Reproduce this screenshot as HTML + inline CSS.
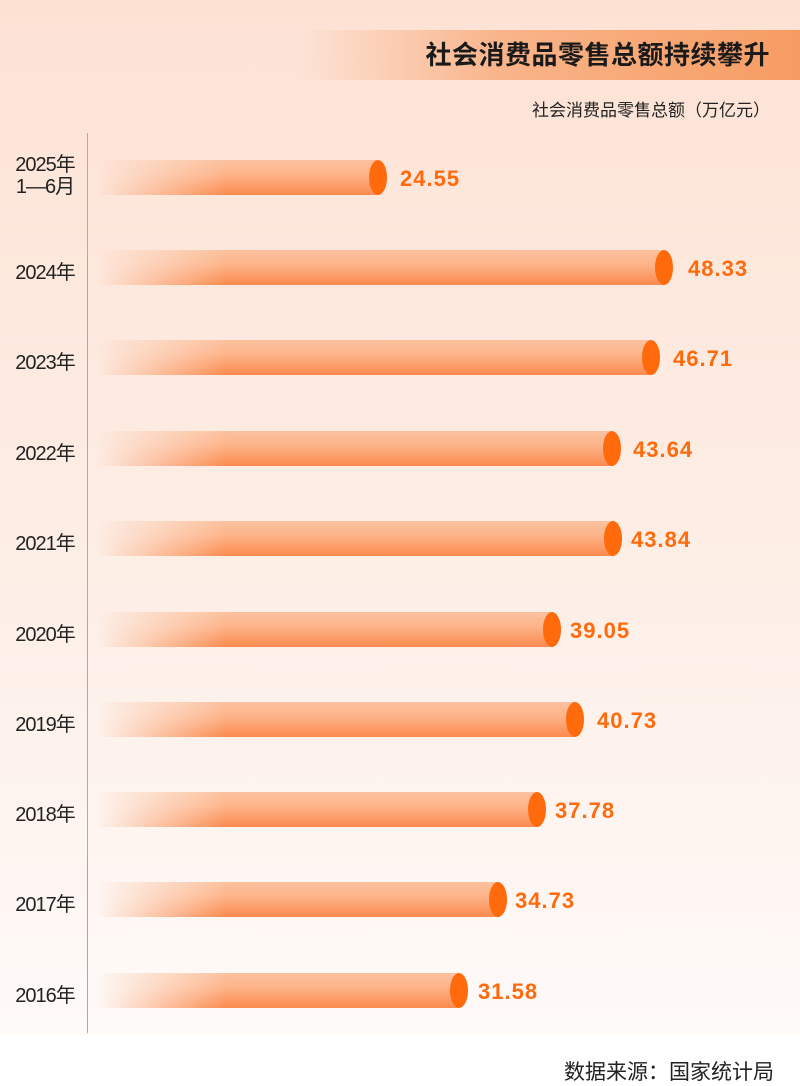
<!DOCTYPE html>
<html><head><meta charset="utf-8"><style>
*{margin:0;padding:0;box-sizing:border-box}
body{width:800px;height:1086px;position:relative;background:#fff;font-family:"Liberation Sans","Noto Sans CJK SC",sans-serif;overflow:hidden}
#bg{position:absolute;left:0;top:0;width:800px;height:1035px;background:linear-gradient(#fde2d4 0%,#fdeee6 55%,#fefaf8 100%)}
#title{position:absolute;left:300px;top:30px;width:500px;height:50px;background:linear-gradient(90deg,rgba(250,160,105,0) 0%,#f9b48a 40%,#f69c62 100%)}
#title span{position:absolute;right:30px;top:5px;font-size:26px;font-weight:bold;color:#1a1a1a;font-family:"Noto Sans CJK SC",sans-serif;letter-spacing:0.5px}
#unit{position:absolute;right:30px;top:96px;font-size:17px;color:#222;font-family:"Noto Sans CJK SC",sans-serif}
#axis{position:absolute;left:87px;top:133px;width:1px;height:900px;background:#aaa}
.bar{position:absolute;left:97px;height:35px;background:linear-gradient(#fbc29f 0%,#fdb48a 40%,#fb8a4e 100%);-webkit-mask-image:linear-gradient(90deg,transparent 0,#000 130px);mask-image:linear-gradient(90deg,transparent 0,#000 130px)}
.cap{position:absolute;width:18px;height:35px;border-radius:50%;background:#ff6a0c}
.val{position:absolute;font-size:22px;font-weight:bold;color:#ff6a0c;letter-spacing:1px}
.lab{position:absolute;left:0;width:90px;text-align:center;font-size:20px;color:#222;letter-spacing:-1px;font-family:"Liberation Sans","Noto Sans CJK SC",sans-serif}
#src{position:absolute;right:26px;top:1056px;font-size:21px;color:#222;font-family:"Noto Sans CJK SC",sans-serif}
</style></head><body>
<div id="bg"></div>
<div id="title"><span>社会消费品零售总额持续攀升</span></div>
<div id="unit">社会消费品零售总额（万亿元）</div>
<div id="axis"></div>

<div class="lab" style="top:154px;line-height:22px">2025年<br>1—6月</div>
<div class="bar" style="top:160px;width:282px"></div><div class="cap" style="left:369px;top:160px"></div><div class="val" style="left:400px;top:166px">24.55</div>

<div class="lab" style="top:256px">2024年</div>
<div class="bar" style="top:250px;width:568px"></div><div class="cap" style="left:655px;top:250px"></div><div class="val" style="left:688px;top:256px">48.33</div>

<div class="lab" style="top:346px">2023年</div>
<div class="bar" style="top:340px;width:555px"></div><div class="cap" style="left:642px;top:340px"></div><div class="val" style="left:673px;top:346px">46.71</div>

<div class="lab" style="top:437px">2022年</div>
<div class="bar" style="top:431px;width:516px"></div><div class="cap" style="left:603px;top:431px"></div><div class="val" style="left:633px;top:437px">43.64</div>

<div class="lab" style="top:527px">2021年</div>
<div class="bar" style="top:521px;width:517px"></div><div class="cap" style="left:604px;top:521px"></div><div class="val" style="left:631px;top:527px">43.84</div>

<div class="lab" style="top:618px">2020年</div>
<div class="bar" style="top:612px;width:456px"></div><div class="cap" style="left:543px;top:612px"></div><div class="val" style="left:570px;top:618px">39.05</div>

<div class="lab" style="top:708px">2019年</div>
<div class="bar" style="top:702px;width:479px"></div><div class="cap" style="left:566px;top:702px"></div><div class="val" style="left:597px;top:708px">40.73</div>

<div class="lab" style="top:798px">2018年</div>
<div class="bar" style="top:792px;width:441px"></div><div class="cap" style="left:528px;top:792px"></div><div class="val" style="left:555px;top:798px">37.78</div>

<div class="lab" style="top:888px">2017年</div>
<div class="bar" style="top:882px;width:402px"></div><div class="cap" style="left:489px;top:882px"></div><div class="val" style="left:515px;top:888px">34.73</div>

<div class="lab" style="top:979px">2016年</div>
<div class="bar" style="top:973px;width:363px"></div><div class="cap" style="left:450px;top:973px"></div><div class="val" style="left:478px;top:979px">31.58</div>

<div id="src">数据来源：国家统计局</div>
</body></html>
